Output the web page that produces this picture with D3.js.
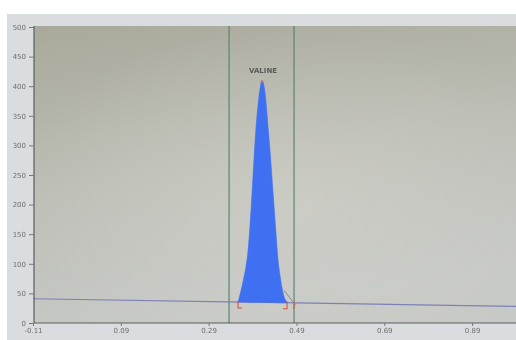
<!DOCTYPE html>
<html>
<head>
<meta charset="utf-8">
<script src="https://cdn.jsdelivr.net/npm/d3@7"></script>
<style>
  html, body { margin: 0; padding: 0; background: #ffffff; }
  svg { display: block; }
  text { font-family: "DejaVu Sans", "Liberation Sans", sans-serif; }
</style>
</head>
<body>
<svg id="chart" width="516" height="340"></svg>
<script>
// Chromatogram data: retention time (min) vs detector signal
const yTicks = [0, 50, 100, 150, 200, 250, 300, 350, 400, 450, 500];
const xTicks = [-0.11, 0.09, 0.29, 0.49, 0.69, 0.89];
const xTickLabels = ["-0.11", "0.09", "0.29", "0.49", "0.69", "0.89"];

const peakTime = [0.3570, 0.3615, 0.3661, 0.3706, 0.3752, 0.3797, 0.3843, 0.3889,
  0.3934, 0.3980, 0.4025, 0.4071, 0.4116, 0.4162, 0.4208, 0.4253, 0.4299, 0.4367,
  0.4435, 0.4481, 0.4526, 0.4595, 0.4640, 0.4686];
const peakSignal = [35, 48, 62, 78, 96, 122, 165, 220, 278, 331, 368, 396, 410,
  400, 372, 331, 290, 220, 150, 106, 80, 51, 40, 36];

// baseline drawn under the trace
const baselineTime = [-0.11, 0.99];
const baselineSignal = [41, 28];

// integration window (vertical guides) and peak start / end markers
const windowTimes = [0.3365, 0.4845];
const peakStart = 0.357;
const peakEnd = 0.4686;
const tailTime = [0.462, 0.488];
const tailSignal = [55, 30];
const peakName = "VALINE";
const apexTime = 0.4116;
const apexSignal = 410;

const W = 516, H = 340;
const plot = { left: 34, right: 516, top: 26, bottom: 323 };

const svg = d3.select("#chart");
const defs = svg.append("defs");

const bg = defs.append("linearGradient").attr("id", "plotBg")
  .attr("x1", 0).attr("y1", 0).attr("x2", 0.25).attr("y2", 1);
bg.append("stop").attr("offset", "0%").attr("stop-color", "#a9a99b");
bg.append("stop").attr("offset", "55%").attr("stop-color", "#bdbeb6");
bg.append("stop").attr("offset", "100%").attr("stop-color", "#c7c9c6");

const glow = defs.append("radialGradient").attr("id", "plotGlow")
  .attr("cx", 0.55).attr("cy", 0.6).attr("r", 0.6);
glow.append("stop").attr("offset", "0%").attr("stop-color", "#d4d4cc").attr("stop-opacity", 0.55);
glow.append("stop").attr("offset", "100%").attr("stop-color", "#d4d4cc").attr("stop-opacity", 0);

const soft = defs.append("filter").attr("id", "soft")
  .attr("x", "-5%").attr("y", "-5%").attr("width", "110%").attr("height", "110%");
soft.append("feGaussianBlur").attr("stdDeviation", 0.55);

const root = svg.append("g").attr("filter", "url(#soft)");

// monitor surface around the plot
root.append("rect").attr("x", 7).attr("y", 14).attr("width", W - 7).attr("height", H - 14)
  .attr("fill", "#dadde0");

root.append("rect")
  .attr("x", plot.left).attr("y", plot.top)
  .attr("width", plot.right - plot.left).attr("height", plot.bottom - plot.top)
  .attr("fill", "url(#plotBg)");
root.append("rect")
  .attr("x", plot.left).attr("y", plot.top)
  .attr("width", plot.right - plot.left).attr("height", plot.bottom - plot.top)
  .attr("fill", "url(#plotGlow)");

const x = d3.scaleLinear().domain([-0.11, 0.99]).range([33, 516]);
const y = d3.scaleLinear().domain([0, 500]).range([323, 27]);

const baseAt = d3.scaleLinear().domain(baselineTime).range(baselineSignal);

// integration window guides
root.selectAll("line.win").data(windowTimes).join("line")
  .attr("class", "win")
  .attr("x1", d => x(d)).attr("x2", d => x(d))
  .attr("y1", plot.top).attr("y2", plot.bottom)
  .attr("stroke", "#4f806c").attr("stroke-width", 1.1);

// baseline
const line = d3.line().x(d => x(d[0])).y(d => y(d[1]));
root.append("path")
  .datum(d3.zip(baselineTime, baselineSignal))
  .attr("d", line)
  .attr("fill", "none").attr("stroke", "#7c80b8").attr("stroke-width", 1.2);

// filled peak between trace and baseline
const peak = d3.zip(peakTime, peakSignal);
const area = d3.area()
  .curve(d3.curveMonotoneX)
  .x(d => x(d[0]))
  .y0(d => y(baseAt(d[0])))
  .y1(d => y(d[1]));
root.append("path").datum(peak).attr("d", area)
  .attr("fill", "#3f6ff2").attr("stroke", "#3f6ff2").attr("stroke-width", 0.6);

// tail drop line
root.append("path").datum(d3.zip(tailTime, tailSignal)).attr("d", line)
  .attr("fill", "none").attr("stroke", "#8a8a8a").attr("stroke-width", 1);

// start / end markers
const red = "#d8553a";
root.append("path")
  .attr("d", `M${x(peakStart)},${y(baseAt(peakStart)) - 1}v7h4`)
  .attr("fill", "none").attr("stroke", red).attr("stroke-width", 1.1);
root.append("path")
  .attr("d", `M${x(peakEnd) - 4},${y(baseAt(peakEnd)) + 6}h4v-7`)
  .attr("fill", "none").attr("stroke", red).attr("stroke-width", 1.1);
root.append("line")
  .attr("x1", x(windowTimes[1])).attr("x2", x(windowTimes[1]))
  .attr("y1", y(baseAt(windowTimes[1])) - 1).attr("y2", y(baseAt(windowTimes[1])) + 6)
  .attr("stroke", red).attr("stroke-width", 1);

// apex dot and peak name
root.append("circle").attr("cx", x(apexTime)).attr("cy", y(apexSignal) + 1).attr("r", 1.2)
  .attr("fill", "#d07a6a");
root.append("text")
  .attr("x", x(apexTime) + 1).attr("y", y(apexSignal) - 7)
  .attr("text-anchor", "middle")
  .attr("font-size", 7).attr("font-weight", "bold")
  .attr("fill", "#5a5a5a")
  .text(peakName);

// axes
const yAxis = d3.axisLeft(y).tickValues(yTicks).tickSize(5).tickPadding(3)
  .tickFormat(d3.format("d"));
const gy = root.append("g").attr("transform", `translate(${plot.left},0)`).call(yAxis);
const xAxis = d3.axisBottom(x).tickValues(xTicks).tickSize(3).tickPadding(2)
  .tickFormat((d, i) => xTickLabels[i]);
const gx = root.append("g").attr("transform", `translate(0,${plot.bottom})`).call(xAxis);

[gy, gx].forEach(g => {
  g.select(".domain").attr("stroke", "#5d5d5d").attr("stroke-width", 1.2);
  g.selectAll(".tick line").attr("stroke", "#777");
  g.selectAll(".tick text").attr("fill", "#6e6e6e").attr("font-size", 7)
    .attr("font-family", "'DejaVu Sans', sans-serif");
});
gx.select(".domain").attr("d", `M${plot.left},0H${plot.right}`);
gy.select(".domain").attr("d", `M0,${plot.top}V${plot.bottom}`);
</script>
</body>
</html>
